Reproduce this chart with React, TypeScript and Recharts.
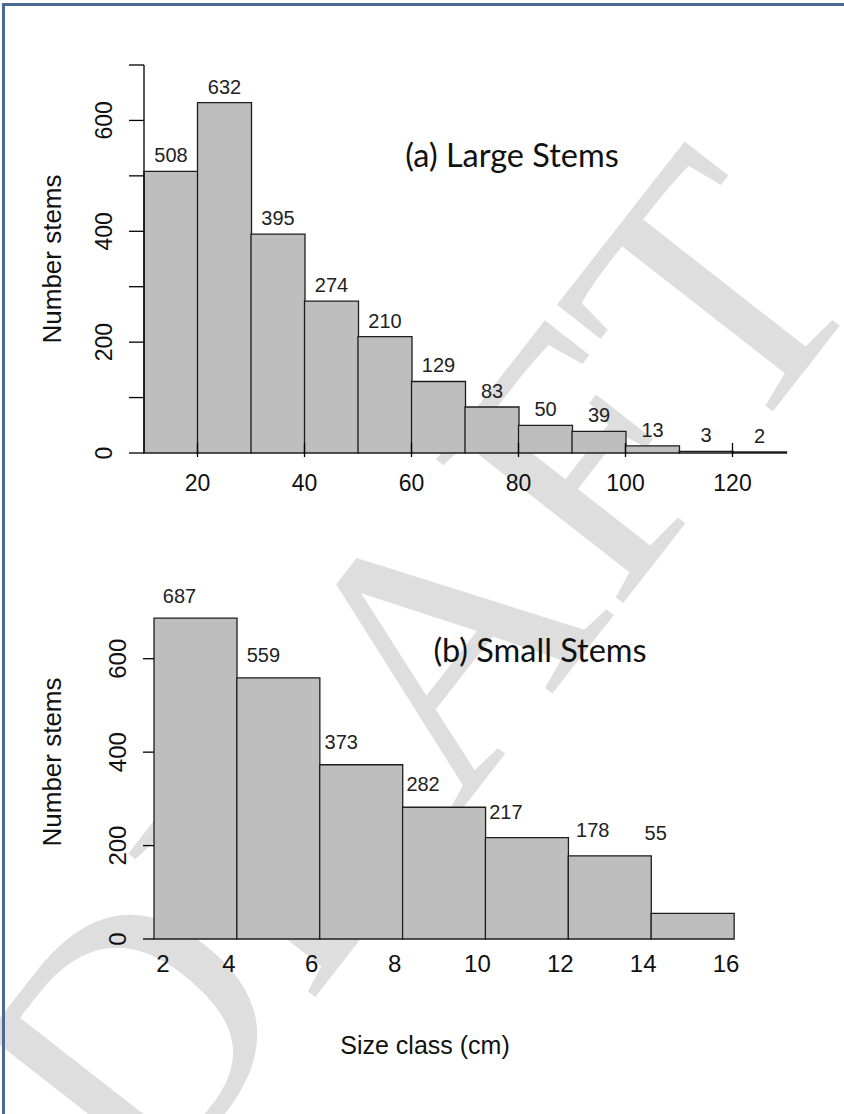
import React from 'react';
import { ComposedChart, Bar, XAxis, YAxis, LabelList } from 'recharts';

// ---------- data ----------
const largeBinStarts = [10, 20, 30, 40, 50, 60, 70, 80, 90, 100, 110, 120];
const largeCounts = [508, 632, 395, 274, 210, 129, 83, 50, 39, 13, 3, 2];
const largeXTicks = [20, 40, 60, 80, 100, 120];
const largeYTicks = [0, 100, 200, 300, 400, 500, 600, 700];
const largeYLabelled = [0, 200, 400, 600];

const smallBinStarts = [2, 4, 6, 8, 10, 12, 14];
const smallCounts = [687, 559, 373, 282, 217, 178, 55];
const smallXTicks = [2, 4, 6, 8, 10, 12, 14, 16];
const smallYTicks = [0, 200, 400, 600];

const largeData = largeBinStarts.map((x0, i) => ({ bin: `${x0}-${x0 + 10}`, x0, count: largeCounts[i] }));
const smallData = smallBinStarts.map((x0, i) => ({ bin: `${x0}-${x0 + 2}`, x0, count: smallCounts[i] }));

// ---------- styles ----------
const FONT = '"Liberation Sans", Arial, sans-serif';
const TITLE_FONT = 'Lato, "Open Sans", sans-serif';
const BAR_FILL = '#bebebe';
const BAR_STROKE = '#1e1e1e';
// label offsets for panel (b) (hand placed in original)
const smallLabelDx = [-16, -15, -20, -21, -21, -17, -37];
const smallLabelDy = [15, 16, 16, 16, 19, 19, 73];

const YTickA = (props: any) => {
  const { x, y, payload } = props;
  if (!largeYLabelled.includes(payload.value)) return null;
  return (
    <text transform={`translate(${x - 17},${y}) rotate(-90)`} textAnchor="middle" fontFamily={FONT} fontSize={23} fill="#111">
      {payload.value}
    </text>
  );
};

const XTickA = (props: any) => {
  const { x, y, payload } = props;
  return (
    <g>
      <line x1={x} x2={x} y1={y - 10} y2={y + 4} stroke="#000" strokeWidth={1.3} />
      <text x={x} y={y + 38} textAnchor="middle" fontFamily={FONT} fontSize={23} fill="#111">
        {payload.value}
      </text>
    </g>
  );
};

const YTickB = (props: any) => {
  const { x, y, payload } = props;
  return (
    <text transform={`translate(${x - 17},${y}) rotate(-90)`} textAnchor="middle" fontFamily={FONT} fontSize={24} fill="#111">
      {payload.value}
    </text>
  );
};

const XTickB = (props: any) => {
  const { x, y, payload } = props;
  const dx = payload.value === 2 ? 9 : -8;
  return (
    <text x={x + dx} y={y + 33} textAnchor="middle" fontFamily={FONT} fontSize={24} fill="#111">
      {payload.value}
    </text>
  );
};

const LabelA = (props: any) => {
  const { x, y, width, value } = props;
  return (
    <text x={x + width / 2} y={y - 9} textAnchor="middle" fontFamily={FONT} fontSize={20} fill="#222">
      {value}
    </text>
  );
};

const LabelB = (props: any) => {
  const { x, y, width, value, index } = props;
  return (
    <text x={x + width / 2 + smallLabelDx[index]} y={y - smallLabelDy[index]} textAnchor="middle" fontFamily={FONT} fontSize={20} fill="#222">
      {value}
    </text>
  );
};

export default function App() {
  return (
    <div style={{ position: 'absolute', left: 0, top: 0, width: 844, height: 1114, background: '#fff', overflow: 'hidden' }}>
      <svg style={{ position: 'absolute', left: 0, top: 0 }} width={844} height={1114}>
        <text
          transform="translate(415,672) rotate(-52)"
          textAnchor="middle"
          dominantBaseline="central"
          fontFamily='"Liberation Serif", serif'
          fontSize={360}
          fill="#dedede"
        >
          DRAFT
        </text>
      </svg>

      <div style={{ position: 'absolute', left: 0, top: 0 }}>
        <ComposedChart width={844} height={540} data={largeData} margin={{ top: 65, right: 58, bottom: 27, left: 0 }} barCategoryGap={0} barGap={0}>
          <XAxis xAxisId="num" type="number" dataKey="x0" domain={[10, 130]} allowDataOverflow ticks={largeXTicks} interval={0}
            tick={<XTickA />} tickSize={0} tickMargin={0} axisLine={false} tickLine={false} height={60} />
          <XAxis xAxisId="cat" dataKey="bin" hide height={0} />
          <YAxis type="number" domain={[0, 700]} ticks={largeYTicks} interval={0} width={144} tickSize={15} tickMargin={0}
            tick={<YTickA />} axisLine={{ stroke: '#000', strokeWidth: 1.3 }} tickLine={{ stroke: '#000', strokeWidth: 1.3 }} />
          <Bar xAxisId="cat" dataKey="count" fill={BAR_FILL} stroke={BAR_STROKE} strokeWidth={1.3} isAnimationActive={false}>
            <LabelList dataKey="count" content={<LabelA />} />
          </Bar>
        </ComposedChart>
      </div>

      <div style={{ position: 'absolute', left: 0, top: 540 }}>
        <ComposedChart width={844} height={574} data={smallData} margin={{ top: 72, right: 110, bottom: 115, left: 0 }} barCategoryGap={0} barGap={0}>
          <XAxis xAxisId="num" type="number" dataKey="x0" domain={[2, 16]} allowDataOverflow ticks={smallXTicks} interval={0}
            tick={<XTickB />} tickSize={0} tickMargin={0} axisLine={false} tickLine={false} height={60} />
          <XAxis xAxisId="cat" dataKey="bin" hide height={0} />
          <YAxis type="number" domain={[0, 700]} ticks={smallYTicks} interval={0} width={154} tickSize={11} tickMargin={0}
            tick={<YTickB />} axisLine={false} tickLine={{ stroke: '#000', strokeWidth: 1.3 }} />
          <Bar xAxisId="cat" dataKey="count" fill={BAR_FILL} stroke={BAR_STROKE} strokeWidth={1.3} isAnimationActive={false}>
            <LabelList dataKey="count" content={<LabelB />} />
          </Bar>
        </ComposedChart>
      </div>

      <svg style={{ position: 'absolute', left: 0, top: 0, pointerEvents: 'none' }} width={844} height={1114}>
        <text transform="translate(61,259) rotate(-90)" textAnchor="middle" fontFamily={FONT} fontSize={26} fill="#111">Number stems</text>
        <text transform="translate(61,762) rotate(-90)" textAnchor="middle" fontFamily={FONT} fontSize={26} fill="#111">Number stems</text>
        <text x={425} y={1054} textAnchor="middle" fontFamily={FONT} fontSize={25} fill="#111">Size class (cm)</text>
        <text x={512} y={167} textAnchor="middle" fontFamily={TITLE_FONT} fontSize={32.5} fill="#111">(a) Large Stems</text>
        <text x={540} y={662} textAnchor="middle" fontFamily={TITLE_FONT} fontSize={32.5} fill="#111">(b) Small Stems</text>
        <rect x={2} y={3} width={850} height={3} fill="#4a6a94" />
        <rect x={2} y={3} width={3} height={1120} fill="#4a6a94" />
      </svg>
    </div>
  );
}
